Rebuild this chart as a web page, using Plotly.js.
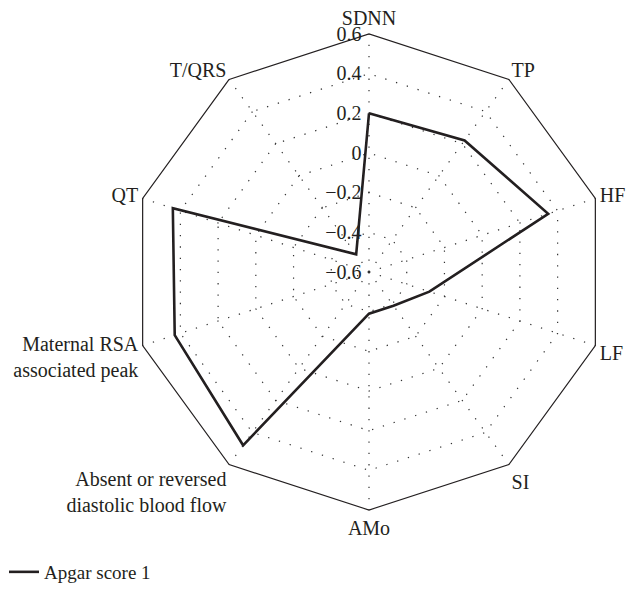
<!DOCTYPE html>
<html>
<head>
<meta charset="utf-8">
<script src="https://cdn.plot.ly/plotly-3.0.1.min.js"></script>
<style>html,body{margin:0;padding:0;background:#fff;}#chart{width:632px;height:597px;}</style>
</head>
<body>
<div id="chart"></div>
<script>
const categories = ["SDNN", "TP", "HF", "LF", "SI", "AMo",
  "Absent or reversed<br>diastolic blood flow",
  "Maternal RSA<br>associated peak", "QT", "T/QRS"];
const apgar1 = [0.20, 0.22, 0.35, -0.28, -0.39, -0.39, 0.48, 0.43, 0.44, -0.49];
const seriesName = "Apgar score 1";
const radialTicks = [-0.6, -0.4, -0.2, 0, 0.2, 0.4, 0.6];
const radialTickText = ["\u22120.6", "\u22120.4", "\u22120.2", "0", "0.2", "0.4", "0.6"];

const W = 632, H = 597;
const cx = 369, cy = 272, R = 238;

const trace = {
  type: "scatterpolar",
  mode: "lines",
  r: apgar1.concat([apgar1[0]]),
  theta: categories.concat([categories[0]]),
  name: seriesName,
  line: {color: "#231f20", width: 2.6},
  showlegend: true
};

const layout = {
  width: W, height: H,
  margin: {l: 0, r: 0, t: 0, b: 0},
  paper_bgcolor: "#fff",
  font: {family: "Liberation Serif, DejaVu Serif, serif", color: "#231f20", size: 18},
  showlegend: true,
  legend: {x: 4 / W, xanchor: "left", y: (H - 572) / H, yanchor: "middle",
           font: {size: 19}, bgcolor: "rgba(0,0,0,0)"},
  polar: {
    domain: {x: [(cx - R) / W, (cx + R) / W], y: [(H - cy - R) / H, (H - cy + R) / H]},
    gridshape: "linear",
    bgcolor: "#fff",
    angularaxis: {
      type: "category",
      categoryarray: categories,
      rotation: 90,
      direction: "clockwise",
      showline: true, linecolor: "#231f20", linewidth: 1.2,
      showgrid: true, gridcolor: "#333", gridwidth: 1.2, griddash: "1.3px,10px",
      ticks: "",
      tickfont: {size: 20}
    },
    radialaxis: {
      range: [-0.6, 0.6],
      tickvals: radialTicks, ticktext: radialTickText.map(t => t + "\u2009"),
      angle: 90,
      side: "counterclockwise",
      showline: false,
      ticks: "",
      showgrid: true, gridcolor: "#333", gridwidth: 1.2, griddash: "1.3px,10px",
      tickfont: {size: 20},
      tickangle: 90
    }
  }
};

Plotly.newPlot("chart", [trace], layout, {displayModeBar: false, staticPlot: true});
</script>
</body>
</html>
